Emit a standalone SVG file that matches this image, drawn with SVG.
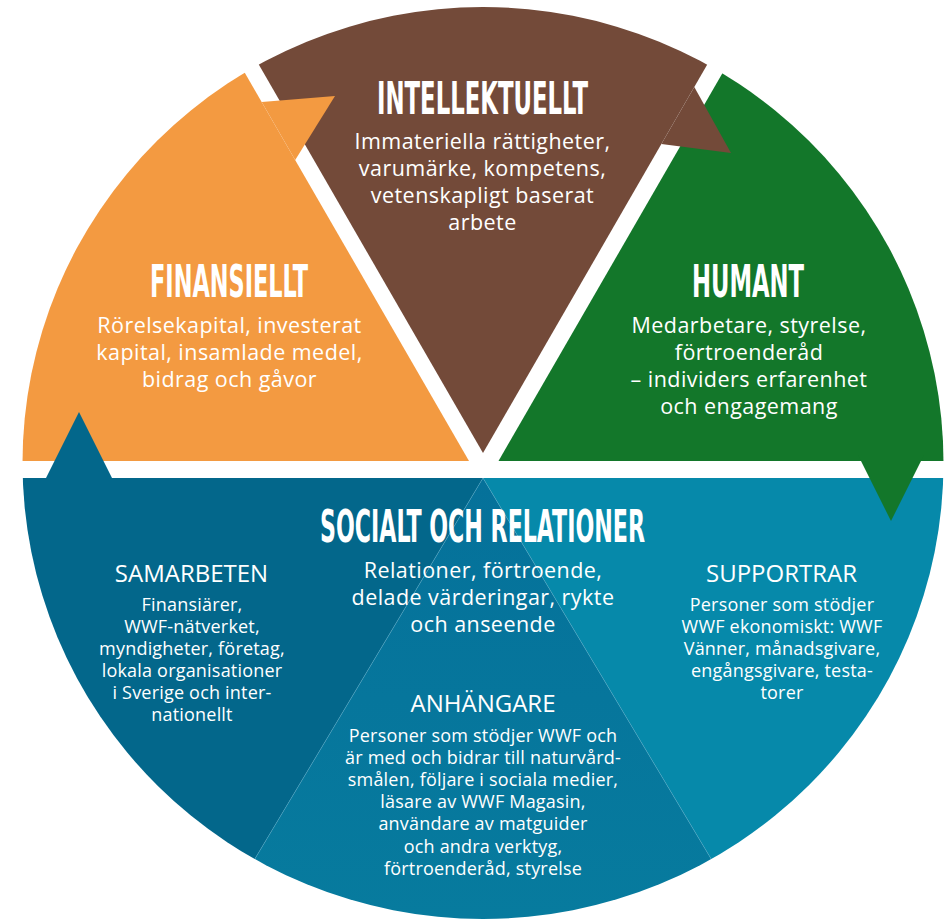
<svg xmlns="http://www.w3.org/2000/svg" width="947" height="922" viewBox="0 0 947 922">
<defs>
<clipPath id="circ"><ellipse cx="483" cy="463" rx="460.5" ry="456"/></clipPath>
<linearGradient id="midg" x1="0" y1="478" x2="0" y2="920" gradientUnits="userSpaceOnUse">
<stop offset="0" stop-color="#05719A"/><stop offset="1" stop-color="#077B9E"/>
</linearGradient>
<style>
.t{font-family:"Liberation Sans Narrow","DejaVu Sans Condensed","Liberation Sans",sans-serif;font-weight:bold;font-size:44px;fill:#fff;text-anchor:middle}
.b{font-family:"Open Sans","Noto Sans",sans-serif;font-size:21.5px;letter-spacing:0.45px;fill:#fff;text-anchor:middle}
.s{font-family:"Open Sans","Noto Sans",sans-serif;font-size:18px;letter-spacing:0.2px;fill:#fff;text-anchor:middle}
.h{font-family:"Open Sans","Noto Sans",sans-serif;font-size:24px;fill:#fff;text-anchor:middle}
.sep{stroke:#4fa6c4;stroke-width:0.7;stroke-opacity:0.7;fill:none}
</style>
</defs>
<rect width="947" height="922" fill="#fff"/>

<g id="node-humant">
<polygon clip-path="url(#circ)" points="498.5,461 947,461 947,0 764.7,0" fill="#13772A"/>
<text class="t" x="748" y="297" textLength="112" lengthAdjust="spacingAndGlyphs">HUMANT</text>
<text class="b" x="749" y="333">Medarbetare, styrelse,</text>
<text class="b" x="749" y="360">förtroenderåd</text>
<text class="b" x="749" y="387">– individers erfarenhet</text>
<text class="b" x="749" y="414">och engagemang</text>
</g>

<g id="node-intellektuellt">
<polygon clip-path="url(#circ)" points="483,453 221.5,0 744.5,0" fill="#734A39"/>
<text class="t" x="482.5" y="114" textLength="211" lengthAdjust="spacingAndGlyphs">INTELLEKTUELLT</text>
<text class="b" x="482.5" y="149">Immateriella rättigheter,</text>
<text class="b" x="482.5" y="176">varumärke, kompetens,</text>
<text class="b" x="482.5" y="203">vetenskapligt baserat</text>
<text class="b" x="482.5" y="230">arbete</text>
</g>

<g id="node-finansiellt">
<polygon clip-path="url(#circ)" points="0,461 469,461 202.8,0 0,0" fill="#F39A41"/>
<text class="t" x="229" y="297" textLength="158" lengthAdjust="spacingAndGlyphs">FINANSIELLT</text>
<text class="b" x="229.5" y="333">Rörelsekapital, investerat</text>
<text class="b" x="229.5" y="360">kapital, insamlade medel,</text>
<text class="b" x="229.5" y="387">bidrag och gåvor</text>
</g>

<g id="node-socialt">
<g clip-path="url(#circ)">
<polygon id="area-samarbeten" points="0,478 483,478 206.3,940 0,940" fill="#03678B"/>
<polygon id="area-anhangare" points="483,478 206.3,940 759.7,940" fill="url(#midg)"/>
<polygon id="area-supportrar" points="483,478 947,478 947,940 759.7,940" fill="#0689AA"/>
<line class="sep" x1="483" y1="478" x2="206.3" y2="940"/>
<line class="sep" x1="483" y1="478" x2="759.7" y2="940"/>
</g>
<text class="t" x="482.5" y="542" textLength="325" lengthAdjust="spacingAndGlyphs">SOCIALT OCH RELATIONER</text>
<text class="b" x="483" y="578">Relationer, förtroende,</text>
<text class="b" x="483" y="605">delade värderingar, rykte</text>
<text class="b" x="483" y="632">och anseende</text>
</g>

<g id="node-samarbeten">
<text class="h" x="191.5" y="582">SAMARBETEN</text>
<text class="s" x="192" y="611">Finansiärer,</text>
<text class="s" x="192" y="633">WWF-nätverket,</text>
<text class="s" x="192" y="655">myndigheter, företag,</text>
<text class="s" x="192" y="677">lokala organisationer</text>
<text class="s" x="192" y="699">i Sverige och inter-</text>
<text class="s" x="192" y="721">nationellt</text>
</g>

<g id="node-anhangare">
<text class="h" x="483" y="712">ANHÄNGARE</text>
<text class="s" x="483" y="741.5">Personer som stödjer WWF och</text>
<text class="s" x="483" y="763.7">är med och bidrar till naturvård-</text>
<text class="s" x="483" y="786">smålen, följare i sociala medier,</text>
<text class="s" x="483" y="808">läsare av WWF Magasin,</text>
<text class="s" x="483" y="830">användare av matguider</text>
<text class="s" x="483" y="852.5">och andra verktyg,</text>
<text class="s" x="483" y="874.7">förtroenderåd, styrelse</text>
</g>

<g id="node-supportrar">
<text class="h" x="781.5" y="582">SUPPORTRAR</text>
<text class="s" x="782" y="611">Personer som stödjer</text>
<text class="s" x="782" y="633">WWF ekonomiskt: WWF</text>
<text class="s" x="782" y="655">Vänner, månadsgivare,</text>
<text class="s" x="782" y="677">engångsgivare, testa-</text>
<text class="s" x="782" y="699">torer</text>
</g>

<g id="connectors">
<polygon id="arrow-finansiellt-intellektuellt" points="261.7,102 335,96 295.2,160" fill="#F39A41"/>
<polygon id="arrow-intellektuellt-humant" points="694.3,87 731,153 661.4,144" fill="#734A39"/>
<polygon id="arrow-humant-socialt" points="858,455 924,455 891,521" fill="#13772A"/>
<polygon id="arrow-socialt-finansiellt" points="46,478 112,478 79,412" fill="#03678B"/>
</g>
</svg>
